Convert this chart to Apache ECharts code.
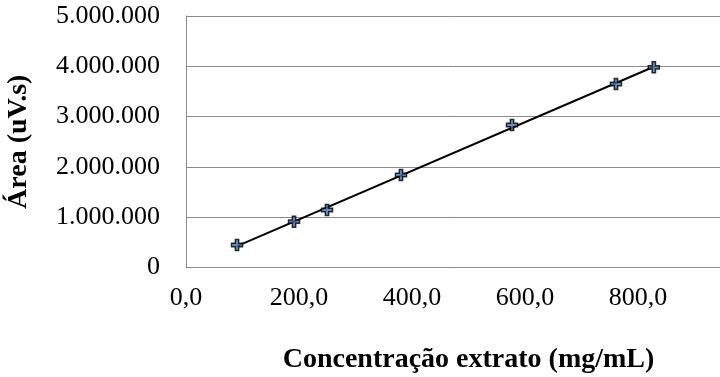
<!DOCTYPE html>
<html>
<head>
<meta charset="utf-8">
<script src="https://cdn.jsdelivr.net/npm/echarts@6/dist/echarts.min.js"></script>
<style>
  html, body { margin: 0; padding: 0; background: #fff; }
  #chart { width: 720px; height: 377px; }
</style>
</head>
<body>
<div id="chart"></div>
<script>
// Calibration points: extract concentration (mg/mL) vs peak area (uV.s)
const concentracao = [90.3, 191.2, 249.6, 380.5, 577, 761, 828];
const area = [447000, 911000, 1143000, 1839000, 2833000, 3648000, 3980000];

// Axis ticks
const xTicks = [0, 200, 400, 600, 800, 1000];
const yTicks = [0, 1000000, 2000000, 3000000, 4000000, 5000000];

const xTitle = 'Concentração extrato (mg/mL)';
const yTitle = 'Área (uV.s)';

// Least-squares linear trendline over the measured range
function linearFit(xs, ys) {
  const n = xs.length;
  let sx = 0, sy = 0, sxx = 0, sxy = 0;
  for (let i = 0; i < n; i++) {
    sx += xs[i]; sy += ys[i]; sxx += xs[i] * xs[i]; sxy += xs[i] * ys[i];
  }
  const b = (n * sxy - sx * sy) / (n * sxx - sx * sx);
  const a = (sy - b * sx) / n;
  return x => a + b * x;
}
const fit = linearFit(concentracao, area);
const xMin = Math.min(...concentracao);
const xMax = Math.max(...concentracao);
const trend = [[xMin, fit(xMin)], [xMax, fit(xMax)]];

const points = concentracao.map((x, i) => [x, area[i]]);

const fmtThousands = v => String(Math.round(v)).replace(/\B(?=(\d{3})+(?!\d))/g, '.');
const fmtDecimal = v => v.toFixed(1).replace('.', ',');

const font = "'Liberation Serif', 'Times New Roman', serif";
const plusSymbol = 'path://M3.5,0H6.5V3.5H10V6.5H6.5V10H3.5V6.5H0V3.5H3.5Z';

const chart = echarts.init(document.getElementById('chart'), null, { renderer: 'canvas' });
chart.setOption({
  backgroundColor: '#ffffff',
  animation: false,
  // the plot area runs past the right edge of the canvas
  grid: { left: 186, top: 16, width: 565, bottom: 109.5, containLabel: false, outerBoundsMode: 'none' },
  xAxis: {
    type: 'value',
    min: xTicks[0],
    max: xTicks[xTicks.length - 1],
    interval: xTicks[1] - xTicks[0],
    name: xTitle,
    nameLocation: 'middle',
    nameGap: 78,
    nameTextStyle: { fontFamily: font, fontSize: 28, fontWeight: 'bold', color: '#000' },
    axisLine: { show: true, lineStyle: { color: '#8c8c8c', width: 1 } },
    axisTick: { show: false },
    splitLine: { show: false },
    axisLabel: {
      fontFamily: font, fontSize: 26, color: '#000', margin: 18,
      showMaxLabel: false, formatter: fmtDecimal
    }
  },
  yAxis: {
    type: 'value',
    min: yTicks[0],
    max: yTicks[yTicks.length - 1],
    interval: yTicks[1] - yTicks[0],
    name: yTitle,
    nameLocation: 'middle',
    nameGap: 153,
    nameTextStyle: { fontFamily: font, fontSize: 28, fontWeight: 'bold', color: '#000' },
    axisLine: { show: true, lineStyle: { color: '#8c8c8c', width: 1 } },
    axisTick: { show: false },
    splitLine: { show: true, lineStyle: { color: '#8c8c8c', width: 1 } },
    axisLabel: { fontFamily: font, fontSize: 26, color: '#000', margin: 26, formatter: fmtThousands }
  },
  series: [
    {
      name: 'Tendência',
      type: 'line',
      data: trend,
      symbol: 'none',
      lineStyle: { color: '#000', width: 2 },
      z: 2
    },
    {
      name: 'Área',
      type: 'scatter',
      data: points,
      symbol: plusSymbol,
      symbolSize: 11,
      itemStyle: { color: '#3f73b4', borderColor: '#000', borderWidth: 1.5 },
      z: 3
    }
  ]
});
</script>
</body>
</html>
